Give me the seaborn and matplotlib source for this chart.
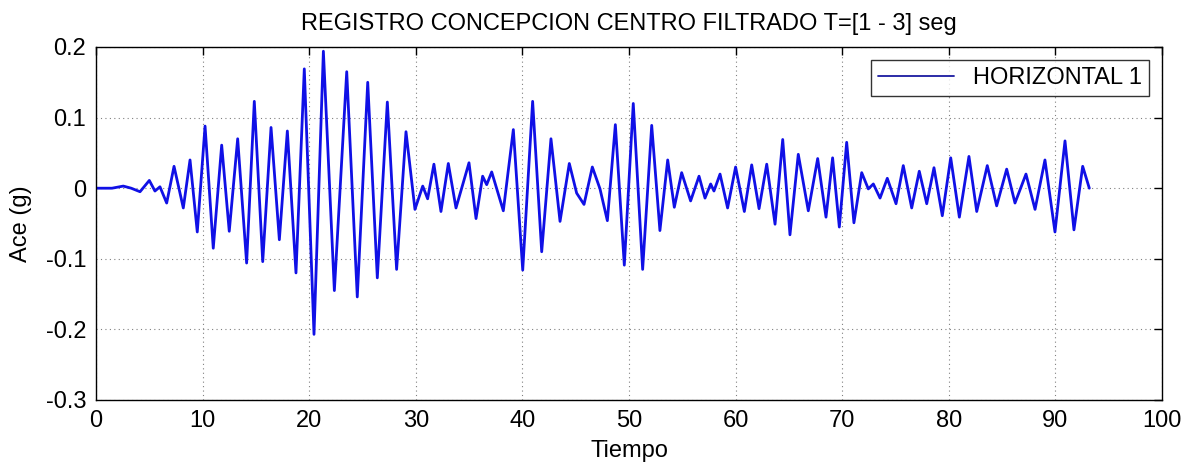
import matplotlib
matplotlib.use("Agg")
import matplotlib.pyplot as plt
import seaborn as sns
import pandas as pd

# time (s) and acceleration (g) at the turning points read from the record
t_s = [0.0, 1.5, 2.56, 3.3, 4.13, 5.0, 5.53, 6.0, 6.63, 7.32, 8.19, 8.82, 9.5,
       10.23, 11.0, 11.79, 12.5, 13.29, 14.13, 14.85, 15.64, 16.42, 17.2, 17.95,
       18.76, 19.54, 20.45, 21.33, 22.36, 23.52, 24.51, 25.49, 26.39, 27.33, 28.2,
       29.08, 29.92, 30.65, 31.11, 31.7, 32.36, 33.05, 33.77, 34.99, 35.65, 36.27,
       36.65, 37.12, 38.21, 39.15, 40.03, 40.96, 41.81, 42.68, 43.53, 44.4, 45.09,
       45.78, 46.56, 47.28, 47.97, 48.72, 49.56, 50.4, 51.28, 52.13, 52.9, 53.63,
       54.25, 54.94, 55.78, 56.57, 57.13, 57.66, 57.97, 58.54, 59.25, 60.0, 60.82,
       61.51, 62.2, 62.92, 63.7, 64.42, 65.1, 65.88, 66.82, 67.7, 68.48, 69.1,
       69.73, 70.42, 71.1, 71.83, 72.45, 72.92, 73.55, 74.23, 75.05, 75.73, 76.52,
       77.23, 77.93, 78.61, 79.39, 80.18, 80.99, 81.89, 82.62, 83.61, 84.49, 85.43,
       86.21, 87.24, 88.09, 89.02, 89.96, 90.9, 91.74, 92.56, 93.18]
ace_g = [0.0, 0.0, 0.003, 0.0, -0.005, 0.011, -0.004, 0.002, -0.021, 0.031, -0.028,
         0.040, -0.062, 0.088, -0.085, 0.061, -0.061, 0.070, -0.106, 0.123, -0.104,
         0.086, -0.073, 0.081, -0.120, 0.169, -0.207, 0.194, -0.145, 0.165, -0.154,
         0.150, -0.127, 0.122, -0.115, 0.080, -0.030, 0.003, -0.015, 0.034, -0.033,
         0.035, -0.028, 0.036, -0.043, 0.017, 0.005, 0.023, -0.032, 0.083, -0.116,
         0.123, -0.090, 0.070, -0.047, 0.035, -0.007, -0.023, 0.030, -0.001, -0.046,
         0.090, -0.109, 0.120, -0.115, 0.089, -0.060, 0.040, -0.027, 0.022, -0.018,
         0.017, -0.014, 0.006, -0.004, 0.020, -0.028, 0.030, -0.033, 0.033, -0.029,
         0.034, -0.051, 0.069, -0.066, 0.048, -0.032, 0.042, -0.041, 0.043, -0.055,
         0.065, -0.049, 0.022, -0.001, 0.006, -0.014, 0.014, -0.022, 0.032, -0.028,
         0.024, -0.022, 0.029, -0.039, 0.043, -0.041, 0.045, -0.033, 0.032, -0.025,
         0.027, -0.021, 0.020, -0.030, 0.040, -0.062, 0.067, -0.059, 0.031, 0.0]

series_label = "HORIZONTAL 1"
title_text = "REGISTRO CONCEPCION CENTRO FILTRADO T=[1 - 3] seg"
x_ticks = [0, 10, 20, 30, 40, 50, 60, 70, 80, 90, 100]
y_ticks = [-0.3, -0.2, -0.1, 0, 0.1, 0.2]
y_tick_labels = ["-0.3", "-0.2", "-0.1", "0", "0.1", "0.2"]

sns.set_style("white")
plt.rcParams["font.family"] = ["Liberation Sans", "DejaVu Sans"]
plt.rcParams["text.color"] = "black"
plt.rcParams["axes.labelcolor"] = "black"
plt.rcParams["xtick.color"] = "black"
plt.rcParams["ytick.color"] = "black"

df = pd.DataFrame({"Tiempo": t_s, "Ace": ace_g})

fig = plt.figure(figsize=(11.85, 4.65), dpi=100)
ax = fig.add_axes([96 / 1185, 1 - 400 / 465, 1066 / 1185, 353 / 465])
sns.lineplot(data=df, x="Tiempo", y="Ace", ax=ax, color="#1010e6", lw=2.0,
             label=series_label, sort=False, estimator=None)

ax.set_xlim(0, 100)
ax.set_ylim(-0.3, 0.2)
ax.set_xticks(x_ticks)
ax.set_yticks(y_ticks)
ax.set_yticklabels(y_tick_labels)
ax.tick_params(direction="in", top=True, right=True, length=6, width=1,
               labelsize=17, colors="black", labelcolor="black", pad=7)
ax.grid(True, linestyle=(0, (1, 3)), color="#808080", linewidth=0.8)
for s in ax.spines.values():
    s.set_color("black")
    s.set_linewidth(1.0)
ax.set_xlabel("Tiempo", fontsize=17, labelpad=6, color="black")
ax.set_ylabel("Ace (g)", fontsize=17, labelpad=10, color="black")
ax.set_title(title_text, fontsize=17, pad=12, color="black")
leg = ax.legend(loc="upper right", fontsize=17, frameon=True, fancybox=False,
                handlelength=3.2, borderaxespad=0.55, borderpad=0.3)
leg.get_frame().set_edgecolor("black")
leg.get_frame().set_linewidth(1.0)
for txt in leg.get_texts():
    txt.set_color("black")
leg.get_lines()[0].set_color("#1a1aa0")
leg.get_lines()[0].set_linewidth(1.3)

fig.savefig("out.png", dpi=100)
